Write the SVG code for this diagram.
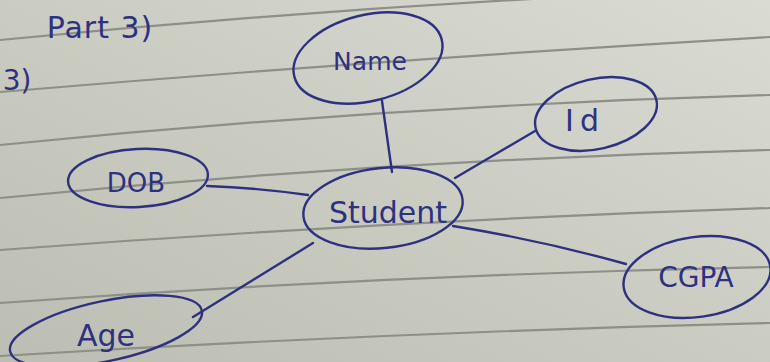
<svg xmlns="http://www.w3.org/2000/svg" width="770" height="362" viewBox="0 0 770 362">
<defs>
<linearGradient id="paper" x1="0" y1="1" x2="1" y2="0">
<stop offset="0" stop-color="#bcbeb4"/>
<stop offset="0.45" stop-color="#c9cbc1"/>
<stop offset="1" stop-color="#dadcd4"/>
</linearGradient>
<style>
.rule{fill:none;stroke:#8d8f89;stroke-width:2.2}
.ink{fill:none;stroke:#2e3180;stroke-width:2.4;stroke-linecap:round}
.lbl{font-family:"DejaVu Sans",sans-serif;fill:#2e3180;text-anchor:middle}
</style>
</defs>
<rect width="770" height="362" fill="url(#paper)"/>
<g id="ruling">
<path class="rule" d="M0,40 Q385,2 770,-12"/>
<path class="rule" d="M0,92 Q385,59.5 770,37"/>
<path class="rule" d="M0,145 Q385,106 770,95"/>
<path class="rule" d="M0,198 Q385,160 770,150"/>
<path class="rule" d="M0,250 Q385,221 770,208"/>
<path class="rule" d="M0,303 Q385,275 770,267"/>
<path class="rule" d="M0,356 Q385,332.5 770,323"/>
</g>
<text class="lbl" x="100" y="38" font-size="30" letter-spacing="1">Part 3)</text>
<text class="lbl" x="17" y="90" font-size="28">3)</text>
<g id="connectors">
<path class="ink" d="M382,101 L392,172"/>
<path class="ink" d="M535,131 L455,178"/>
<path class="ink" d="M207,186 Q260,188 308,195"/>
<path class="ink" d="M193,317 L313,243"/>
<path class="ink" d="M453,226 Q540,240 626,264"/>
</g>
<g id="node-name">
<ellipse class="ink" cx="368" cy="58" rx="76" ry="43" transform="rotate(-14 368 58)"/>
<text class="lbl" x="370" y="70" font-size="25">Name</text>
</g>
<g id="node-id">
<ellipse class="ink" cx="596" cy="114" rx="62" ry="35" transform="rotate(-13 596 114)"/>
<text class="lbl" x="585" y="131" font-size="30" letter-spacing="6">Id</text>
</g>
<g id="node-student">
<ellipse class="ink" cx="383" cy="208" rx="80" ry="40" transform="rotate(-6 383 208)"/>
<text class="lbl" x="388" y="223" font-size="30">Student</text>
</g>
<g id="node-dob">
<ellipse class="ink" cx="138" cy="178" rx="70" ry="29" transform="rotate(-3 138 178)"/>
<text class="lbl" x="136" y="192" font-size="26">DOB</text>
</g>
<g id="node-age">
<ellipse class="ink" cx="106" cy="331" rx="98" ry="30" transform="rotate(-12 106 331)"/>
<text class="lbl" x="106" y="346" font-size="30">Age</text>
</g>
<g id="node-cgpa">
<ellipse class="ink" cx="697" cy="277" rx="74" ry="40" transform="rotate(-8 697 277)"/>
<text class="lbl" x="696" y="287" font-size="28">CGPA</text>
</g>
</svg>
